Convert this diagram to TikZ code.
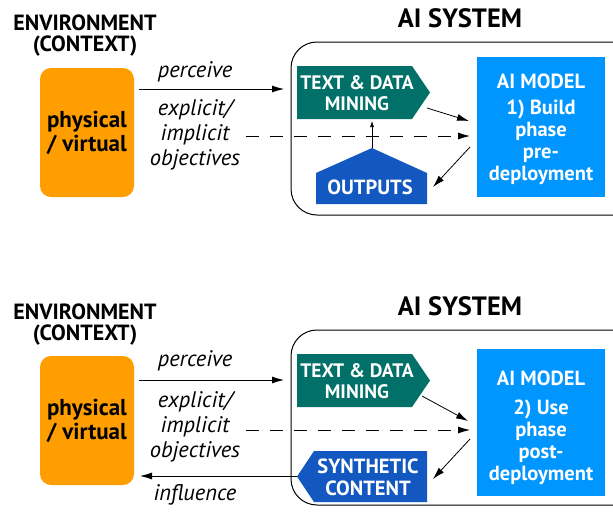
\documentclass[tikz,border=0pt]{standalone}
\usepackage{fontspec}
\setmainfont{PT Sans}
\usetikzlibrary{arrows.meta}
\definecolor{envorange}{RGB}{255,158,0}
\definecolor{tdmteal}{RGB}{0,112,104}
\definecolor{modelblue}{RGB}{0,150,255}
\definecolor{outblue}{RGB}{18,88,192}
\tikzset{
  hdr/.style={font=\bfseries\fontsize{22}{21}\selectfont, align=center, inner sep=0pt},
  systitle/.style={font=\bfseries\fontsize{26.5}{28}\selectfont, inner sep=0pt},
  envbox/.style={fill=envorange, rounded corners=11pt, minimum width=94pt, minimum height=129pt, align=center, inner sep=0pt, font=\bfseries\fontsize{23}{24}\selectfont},
  lbl/.style={font=\itshape\fontsize{22.5}{25}\selectfont, align=center, inner sep=0pt},
  wtxt/.style={text=white, font=\bfseries\fontsize{20.5}{22}\selectfont, align=center, inner sep=0pt},
  tdmtxt/.style={wtxt, font=\bfseries\fontsize{19.5}{21}\selectfont},
  container/.style={draw=black, line width=1pt, rounded corners=26pt},
  conn/.style={-{Latex[length=12pt,width=7pt]}, line width=0.8pt},
  thinconn/.style={-{Latex[length=6pt,width=4pt]}, line width=0.6pt},
  dashconn/.style={-{Latex[length=12pt,width=7pt]}, line width=0.8pt, dash pattern=on 13pt off 11pt},
}
\begin{document}
\begin{tikzpicture}[x=1pt,y=-1pt]
\useasboundingbox (0,0) rectangle (613,512);
% ================= TOP PANEL =================
\node[hdr] (envT) at (85,36) {ENVIRONMENT\\(CONTEXT)};
\node[systitle] (sysT) at (460,18) {AI SYSTEM};
\draw[container] (291,42) rectangle (640,215);
\node[envbox] (physT) at (87,132.5) {physical\\/ virtual};
% text & data mining
\fill[tdmteal] (297,66) -- (412,66) -- (430,92.5) -- (412,119) -- (297,119) -- cycle;
\node[tdmtxt] (tdmT) at (357,93) {TEXT \& DATA\\MINING};
% outputs
\fill[outblue] (316,173) -- (372,148) -- (427,173) -- (427,204) -- (316,204) -- cycle;
\node[wtxt] (outT) at (370,187) {OUTPUTS};
% model
\node[fill=modelblue, minimum width=128pt, minimum height=140pt, inner sep=0pt] (modelT) at (541,127) {};
\node[wtxt] (modelTxtT) at (541,129) {AI MODEL\\[4pt]1) Build\\phase\\pre-\\deployment};
% labels
\node[lbl] (percT) at (195,72) {perceive};
\node[lbl] (objT) at (195,135) {explicit/\\implicit\\objectives};
% coordinates
\coordinate (pT1) at (139,89);
\coordinate (pT2) at (284,89);
\coordinate (dT1) at (246,136);
\coordinate (dT2) at (470,136);
\coordinate (tdmOutT) at (427,108);
\coordinate (modInT) at (469,121);
\coordinate (modOutT) at (470,147);
\coordinate (outInT) at (433,187);
\coordinate (outTopT) at (372,148);
\coordinate (tdmBotT) at (372,121);
\draw[conn] (pT1) -- (pT2);
\draw[dashconn] (dT1) -- (dT2);
\draw[conn] (tdmOutT) -- (modInT);
\draw[conn] (modOutT) -- (outInT);
\draw[thinconn] (outTopT) -- (tdmBotT);
% ================= BOTTOM PANEL =================
\node[hdr] (envB) at (85,325) {ENVIRONMENT\\(CONTEXT)};
\node[systitle] (sysB) at (460,306) {AI SYSTEM};
\draw[container] (291,330) rectangle (640,505);
\node[envbox] (physB) at (87,420.5) {physical\\/ virtual};
% text & data mining
\fill[tdmteal] (297,354) -- (412,354) -- (430,380.5) -- (412,407) -- (297,407) -- cycle;
\node[tdmtxt] (tdmB) at (357,381) {TEXT \& DATA\\MINING};
% synthetic content
\fill[outblue] (297,476.5) -- (314,451) -- (427,451) -- (427,502) -- (314,502) -- cycle;
\node[wtxt] (synB) at (368,477) {SYNTHETIC\\CONTENT};
% model
\node[fill=modelblue, minimum width=128pt, minimum height=147pt, inner sep=0pt] (modelB) at (541,422.5) {};
\node[wtxt] (modelTxtB) at (541,428) {AI MODEL\\[7pt]2) Use\\phase\\post-\\deployment};
% labels
\node[lbl] (percB) at (195,361) {perceive};
\node[lbl] (objB) at (195,427) {explicit/\\implicit\\objectives};
\node[lbl] (inflB) at (195,495) {influence};
% coordinates
\coordinate (pB1) at (139,380);
\coordinate (pB2) at (284,380);
\coordinate (dB1) at (246,430);
\coordinate (dB2) at (470,430);
\coordinate (tdmOutB) at (422,396);
\coordinate (modInB) at (468,421);
\coordinate (modOutB) at (470,439);
\coordinate (synInB) at (433,479);
\coordinate (synTipB) at (297,476);
\coordinate (envInB) at (140,476);
\draw[conn] (pB1) -- (pB2);
\draw[dashconn] (dB1) -- (dB2);
\draw[conn] (tdmOutB) -- (modInB);
\draw[conn] (modOutB) -- (synInB);
\draw[conn] (synTipB) -- (envInB);
\end{tikzpicture}
\end{document}
